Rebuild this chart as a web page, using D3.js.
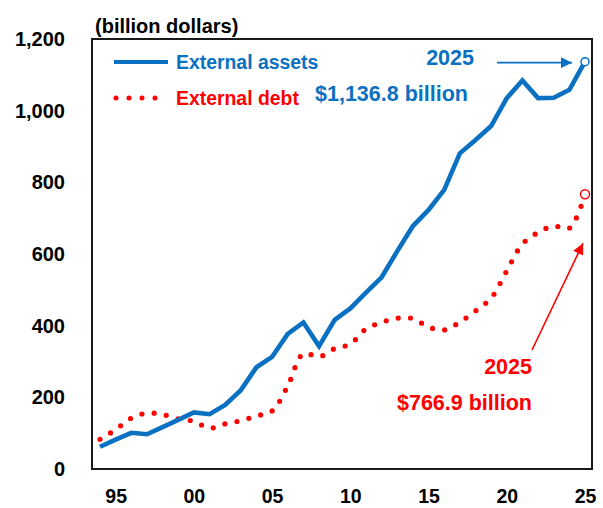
<!DOCTYPE html>
<html>
<head>
<meta charset="utf-8">
<script src="https://cdn.jsdelivr.net/npm/d3@7"></script>
<style>
  html, body { margin: 0; padding: 0; background: #fff; }
  svg { display: block; font-family: "Liberation Sans", Arial, sans-serif; font-weight: bold; }
</style>
</head>
<body>
<div id="chart"></div>
<script>
// 資料 (讀圖估計)
const years = [1994, 1995, 1996, 1997, 1998, 1999, 2000, 2001, 2002, 2003, 2004, 2005, 2006, 2007, 2008, 2009,
               2010, 2011, 2012, 2013, 2014, 2015, 2016, 2017, 2018, 2019, 2020, 2021, 2022, 2023, 2024, 2025];
const externalAssets = [62, 82, 101, 97, 117, 137, 158, 153, 179, 220, 284, 313, 377, 409, 343, 416,
                        448, 492, 535, 608, 678, 723, 779, 881, 918, 957, 1035, 1084, 1035, 1036, 1058, 1136.8];
const externalDebt = [83, 110, 142, 156, 152, 140, 133, 114, 126, 135, 148, 162, 232, 322, 313, 336,
                      349, 391, 409, 421, 420, 396, 388, 410, 441, 477, 553, 628, 660, 678, 672, 766.9];
const xTickYears = [1995, 2000, 2005, 2010, 2015, 2020, 2025];
const xTickLabels = ["95", "00", "05", "10", "15", "20", "25"];
const yTicks = [0, 200, 400, 600, 800, 1000, 1200];

const BLUE = "#0a70c2";
const RED = "#ff0000";

const W = 603, H = 508;
const frame = {left: 92, right: 592, top: 39, bottom: 469};

const svg = d3.select("#chart").append("svg")
    .attr("width", W)
    .attr("height", H);

const x = d3.scaleLinear().domain([1994, 2025]).range([100, 585]);
const y = d3.scaleLinear().domain([0, 1200]).range([frame.bottom, frame.top]);

// 軸
const yAxis = svg.append("g")
    .attr("transform", `translate(${frame.left},0)`)
    .call(d3.axisLeft(y).tickValues(yTicks).tickSize(0).tickPadding(27).tickFormat(d3.format(",")));
yAxis.select(".domain").remove();
yAxis.selectAll("text")
    .attr("font-family", "Liberation Sans, Arial, sans-serif")
    .attr("font-weight", "bold")
    .attr("font-size", 20)
    .attr("fill", "#000");

const xAxis = svg.append("g")
    .attr("transform", `translate(0,${frame.bottom})`)
    .call(d3.axisBottom(x).tickValues(xTickYears).tickSize(0).tickPadding(20)
        .tickFormat((d, i) => xTickLabels[i]));
xAxis.select(".domain").remove();
xAxis.selectAll("text")
    .attr("font-family", "Liberation Sans, Arial, sans-serif")
    .attr("font-weight", "bold")
    .attr("font-size", 19.5)
    .attr("fill", "#000");

// 外框
svg.append("rect")
    .attr("x", frame.left)
    .attr("y", frame.top)
    .attr("width", frame.right - frame.left)
    .attr("height", frame.bottom - frame.top)
    .attr("fill", "none")
    .attr("stroke", "#1a1a1a")
    .attr("stroke-width", 2);

svg.append("text")
    .attr("x", 95)
    .attr("y", 33)
    .attr("font-size", 20)
    .attr("fill", "#000")
    .text("(billion dollars)");

// 線
const assetsLine = d3.line()
    .x((d, i) => x(years[i]))
    .y(d => y(d));

const debtLine = d3.line()
    .x((d, i) => x(years[i]))
    .y(d => y(d))
    .curve(d3.curveCatmullRom.alpha(0.5));

svg.append("path")
    .datum(externalDebt)
    .attr("d", debtLine)
    .attr("fill", "none")
    .attr("stroke", RED)
    .attr("stroke-width", 5.2)
    .attr("stroke-linecap", "round")
    .attr("stroke-dasharray", "0 12.3");

svg.append("path")
    .datum(externalAssets)
    .attr("d", assetsLine)
    .attr("fill", "none")
    .attr("stroke", BLUE)
    .attr("stroke-width", 4.6)
    .attr("stroke-linejoin", "miter");

// 最後一點 (空心圓)
const last = years.length - 1;
svg.append("circle")
    .attr("cx", x(years[last]))
    .attr("cy", y(externalAssets[last]))
    .attr("r", 4)
    .attr("fill", "#fff")
    .attr("stroke", BLUE)
    .attr("stroke-width", 1.5);
svg.append("circle")
    .attr("cx", x(years[last]))
    .attr("cy", y(externalDebt[last]))
    .attr("r", 4.5)
    .attr("fill", "#fff")
    .attr("stroke", RED)
    .attr("stroke-width", 1.5);

// 圖例
svg.append("line")
    .attr("x1", 114).attr("x2", 168)
    .attr("y1", 62).attr("y2", 62)
    .attr("stroke", BLUE)
    .attr("stroke-width", 4.2);
svg.append("text")
    .attr("x", 176).attr("y", 68.5)
    .attr("font-size", 19.4)
    .attr("fill", BLUE)
    .text("External assets");

svg.append("line")
    .attr("x1", 116).attr("x2", 168)
    .attr("y1", 98).attr("y2", 98)
    .attr("stroke", RED)
    .attr("stroke-width", 5)
    .attr("stroke-linecap", "round")
    .attr("stroke-dasharray", "0 13");
svg.append("text")
    .attr("x", 176).attr("y", 104.5)
    .attr("font-size", 19.4)
    .attr("fill", RED)
    .text("External debt");

// 箭頭
const defs = svg.append("defs");
[["arrow-blue", BLUE], ["arrow-red", RED]].forEach(([id, c]) => {
    defs.append("marker")
        .attr("id", id)
        .attr("viewBox", "0 0 10 10")
        .attr("refX", 10).attr("refY", 5)
        .attr("markerUnits", "userSpaceOnUse")
        .attr("markerWidth", 13).attr("markerHeight", 11)
        .attr("orient", "auto")
        .append("path")
        .attr("d", "M0,0L10,5L0,10Z")
        .attr("fill", c);
});

// 2025 資產註解
svg.append("text")
    .attr("x", 474).attr("y", 65)
    .attr("text-anchor", "end")
    .attr("font-size", 21.5)
    .attr("fill", BLUE)
    .text("2025");
svg.append("text")
    .attr("x", 315).attr("y", 101)
    .attr("font-size", 21.5)
    .attr("fill", BLUE)
    .text("$1,136.8 billion");
svg.append("line")
    .attr("x1", 497).attr("y1", y(externalAssets[last]) + 1)
    .attr("x2", x(years[last]) - 13).attr("y2", y(externalAssets[last]) + 1)
    .attr("stroke", BLUE)
    .attr("stroke-width", 1.6)
    .attr("marker-end", "url(#arrow-blue)");

// 2025 負債註解
svg.append("text")
    .attr("x", 532).attr("y", 374)
    .attr("text-anchor", "end")
    .attr("font-size", 21.5)
    .attr("fill", RED)
    .text("2025");
svg.append("text")
    .attr("x", 532).attr("y", 410)
    .attr("text-anchor", "end")
    .attr("font-size", 21.5)
    .attr("fill", RED)
    .text("$766.9 billion");
svg.append("line")
    .attr("x1", 532).attr("y1", 350)
    .attr("x2", x(years[last]) - 2).attr("y2", y(630))
    .attr("stroke", RED)
    .attr("stroke-width", 1.6)
    .attr("marker-end", "url(#arrow-red)");
</script>
</body>
</html>
